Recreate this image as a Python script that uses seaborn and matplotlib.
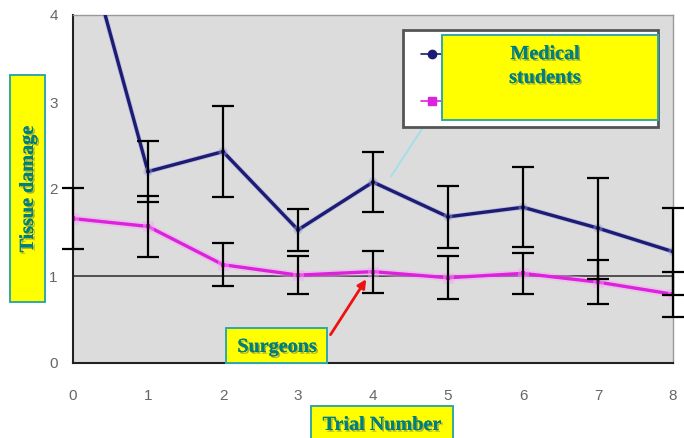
import numpy as np
import pandas as pd
import matplotlib
matplotlib.use('Agg')
import matplotlib.pyplot as plt
import matplotlib.patheffects as pe
import seaborn as sns
from matplotlib.patches import Rectangle
from matplotlib.lines import Line2D
from matplotlib.transforms import Bbox, TransformedBbox

# values
trials = [0, 1, 2, 3, 4, 5, 6, 7, 8]
medical = [5.35, 2.20, 2.43, 1.53, 2.08, 1.68, 1.79, 1.55, 1.28]
medical_err = [0.40, 0.35, 0.52, 0.24, 0.35, 0.36, 0.46, 0.58, 0.50]
surgeons = [1.66, 1.57, 1.13, 1.01, 1.05, 0.98, 1.03, 0.93, 0.79]
surgeons_err = [0.35, 0.35, 0.25, 0.22, 0.24, 0.245, 0.24, 0.25, 0.26]
groups = ['Medical students', 'Surgeons']

navy = '#1c1c72'
magenta = '#dd22dd'
teal = '#007f80'

df = pd.DataFrame({
    'trial': trials * 2,
    'damage': medical + surgeons,
    'group': [groups[0]] * len(trials) + [groups[1]] * len(trials),
})

sns.set_style('white')
plt.rcParams['font.family'] = ['Liberation Sans', 'DejaVu Sans']

W, H = 684, 438
fig = plt.figure(figsize=(W / 100, H / 100), dpi=100)
ax = fig.add_axes([73 / W, 1 - 363 / H, 600 / W, 348 / H])
ax.set_facecolor('#dcdcdc')

ax.axhline(1, color='#2a2a2a', lw=1.1, zorder=1)

sns.lineplot(data=df, x='trial', y='damage', hue='group', style='group',
             palette={groups[0]: navy, groups[1]: magenta},
             markers={groups[0]: 'o', groups[1]: 's'}, dashes=False,
             markersize=3, markeredgewidth=0, linewidth=2.4,
             legend=False, ax=ax, zorder=3)
for line, halo, w in zip(ax.lines[1:], ['#9a9ae6', '#f4a6f4'], [3.6, 5]):
    line.set_path_effects([pe.Stroke(linewidth=w, foreground=halo, alpha=0.45),
                           pe.Normal()])

# error bars may poke out sideways past the axes but not above it
wide = TransformedBbox(Bbox([[-0.05, 0], [1.05, 1]]), ax.transAxes)
for vals, errs in [(medical, medical_err), (surgeons, surgeons_err)]:
    eb = ax.errorbar(trials, vals, yerr=errs, fmt='none', ecolor='black',
                     elinewidth=1.6, capsize=8, capthick=1.6, zorder=4)
    for art in list(eb.lines[1]) + list(eb.lines[2]):
        art.set_clip_box(wide)

ax.set_xlim(0, 8)
ax.set_ylim(0, 4)
ax.set_xticks(trials)
ax.set_yticks([0, 1, 2, 3, 4])
ax.set_xlabel('')
ax.set_ylabel('')
ax.tick_params(axis='y', direction='out', length=6, width=1.2, color='black',
               labelcolor='#666666', labelsize=11, pad=5)
ax.tick_params(axis='x', direction='inout', length=9, width=1.2, color='black',
               labelcolor='#666666', labelsize=11, pad=14)
for side in ['left', 'bottom']:
    ax.spines[side].set_color('#222222')
    ax.spines[side].set_linewidth(1.5)
for side in ['top', 'right']:
    ax.spines[side].set_color('#999999')
    ax.spines[side].set_linewidth(1)

# legend (its labels sit hidden behind the yellow label, as in the original)
handles = [Line2D([], [], color=navy, marker='o', markersize=6, lw=1.2),
           Line2D([], [], color=magenta, marker='s', markersize=6, lw=1.2)]
leg = ax.legend(handles, ['', ''], loc='upper left',
                bbox_to_anchor=(0.55, 0.675, 0.425, 0.282), mode='expand',
                borderaxespad=0, fancybox=False, facecolor='white',
                framealpha=1, edgecolor='#555555', fontsize=10,
                labelspacing=2.4, handlelength=1.6, borderpad=1.3)
leg.get_frame().set_linewidth(2)

# annotation lines
ax.annotate('', xy=(4.22, 2.12), xytext=(443 / W, 1 - 97 / H),
            textcoords='figure fraction',
            arrowprops=dict(arrowstyle='-', color='#9ee0ea', lw=1.3))
ax.annotate('', xy=(3.93, 0.99), xytext=(329 / W, 1 - 337 / H),
            textcoords='figure fraction',
            arrowprops=dict(arrowstyle='-|>,head_length=0.5,head_width=0.25',
                            color='#ee1111', lw=2))

shadow = [pe.withSimplePatchShadow(offset=(1.2, -1.2), shadow_rgbFace='#4a5a5a',
                                   alpha=0.45), pe.Normal()]


def label_box(x0, y0, x1, y1, text, tx, ty, rotation=0):
    fig.patches.append(Rectangle((x0 / W, 1 - y1 / H), (x1 - x0) / W, (y1 - y0) / H,
                                 transform=fig.transFigure, facecolor='#ffff00',
                                 edgecolor='#30a8a8', lw=1.4, zorder=10))
    fig.text(tx / W, 1 - ty / H, text, ha='center', va='center', rotation=rotation,
             family='Liberation Serif', fontweight='bold', fontsize=14.5,
             color=teal, linespacing=1.25, zorder=11, path_effects=shadow)


label_box(442, 35, 658, 120, 'Medical\nstudents', 545, 66)
label_box(226, 328, 327, 363, 'Surgeons', 277, 347)
label_box(311, 406, 453, 445, 'Trial Number', 382, 425)
label_box(10, 75, 45, 302, 'Tissue damage', 28, 189, rotation=90)

fig.savefig('out.png', dpi=100)
